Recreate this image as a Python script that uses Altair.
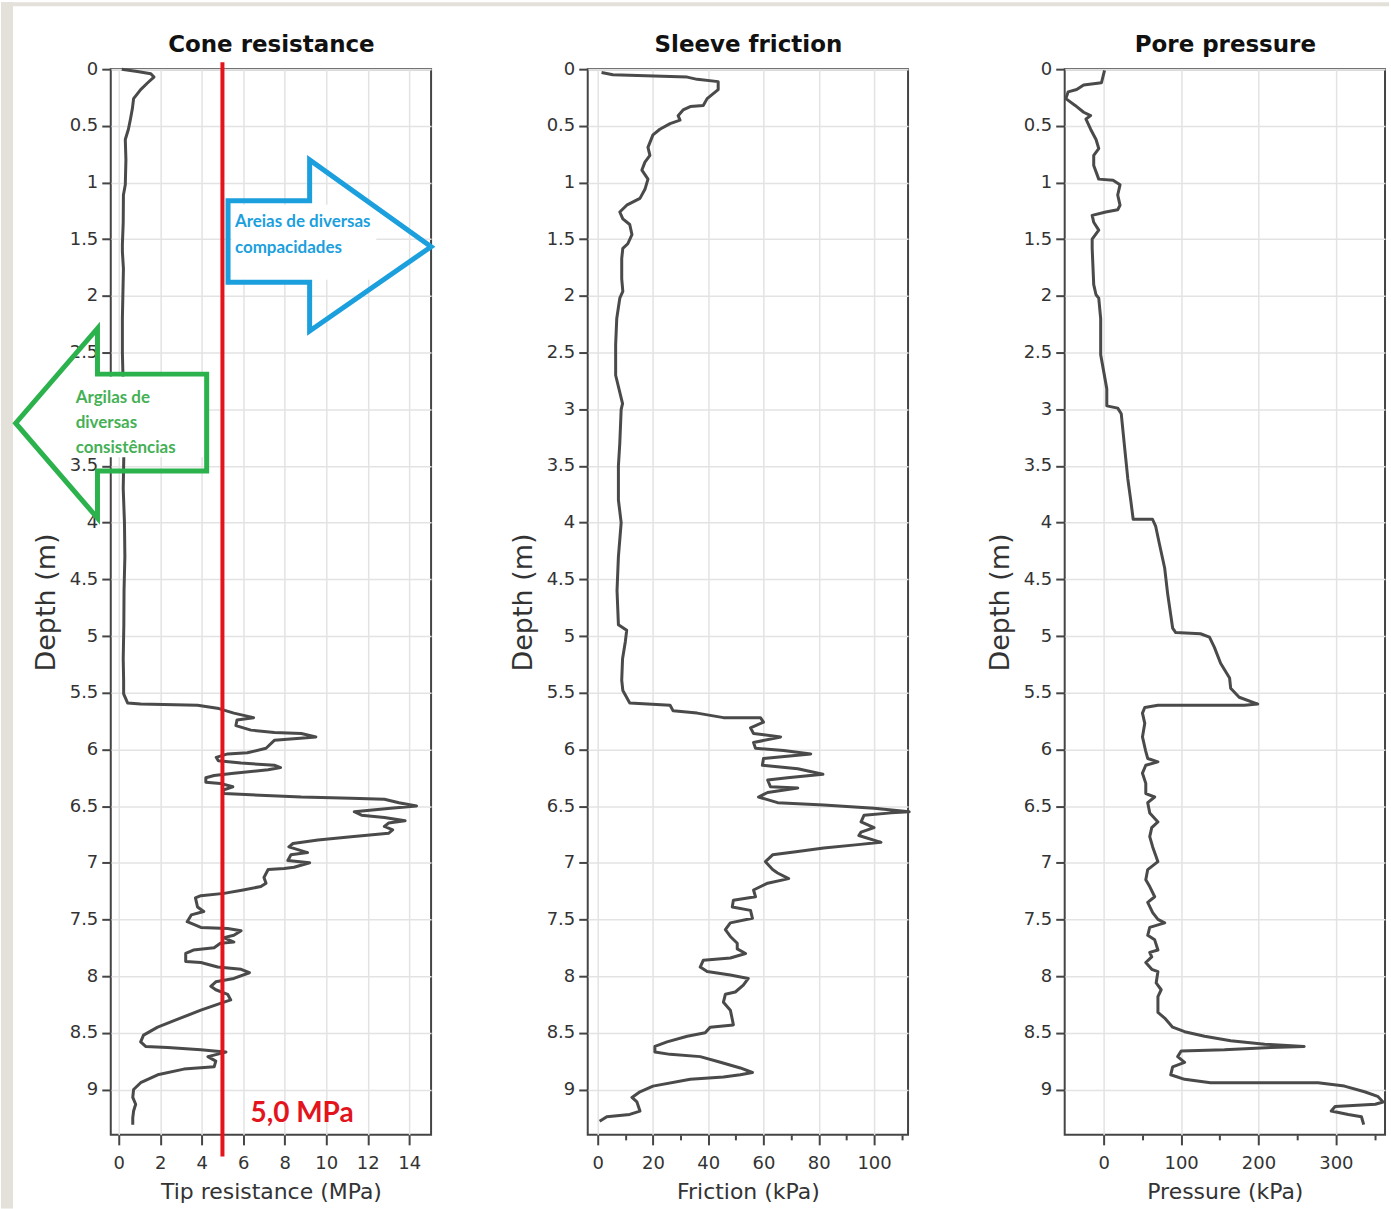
import altair as alt
import pandas as pd

# ---------------- Cone resistance (MPa) ----------------
qc_depth = [0.00, 0.02, 0.04, 0.07, 0.12, 0.18, 0.26, 0.35, 0.44, 0.53, 0.62, 0.80, 1.02, 1.11, 1.35, 1.55,
            1.61, 1.76, 2.20, 2.50, 2.80, 3.10, 3.40, 3.70, 4.00, 4.30, 4.60, 4.90, 5.20, 5.39, 5.51, 5.59,
            5.60, 5.61, 5.64, 5.68, 5.72, 5.74, 5.79, 5.83, 5.85, 5.86, 5.89, 5.90, 5.92, 5.99, 6.03, 6.04,
            6.07, 6.10, 6.12, 6.14, 6.16, 6.18, 6.21, 6.23, 6.25, 6.29, 6.30, 6.33, 6.36, 6.39, 6.40, 6.42,
            6.43, 6.44, 6.47, 6.50, 6.52, 6.55, 6.58, 6.60, 6.63, 6.65, 6.68, 6.71, 6.74, 6.77, 6.80, 6.83,
            6.86, 6.91, 6.93, 6.98, 7.00, 7.04, 7.05, 7.06, 7.13, 7.18, 7.21, 7.24, 7.27, 7.29, 7.31, 7.39,
            7.43, 7.46, 7.52, 7.57, 7.58, 7.60, 7.64, 7.66, 7.70, 7.71, 7.75, 7.77, 7.80, 7.87, 7.88, 7.92,
            7.94, 7.97, 8.02, 8.05, 8.09, 8.12, 8.16, 8.21, 8.24, 8.30, 8.38, 8.45, 8.52, 8.58, 8.62, 8.63,
            8.65, 8.66, 8.67, 8.71, 8.75, 8.80, 8.82, 8.87, 8.94, 9.00, 9.07, 9.13, 9.19, 9.25, 9.31]
qc_mpa = [0.15, 0.9, 1.55, 1.7, 1.4, 1.06, 0.72, 0.66, 0.57, 0.47, 0.32, 0.35, 0.32, 0.23, 0.22, 0.18,
          0.18, 0.23, 0.18, 0.18, 0.22, 0.22, 0.25, 0.22, 0.28, 0.30, 0.26, 0.25, 0.22, 0.24, 0.24, 0.43,
          1.06, 3.8, 4.83, 5.55, 6.5, 5.7, 5.65, 6.37, 7.5, 8.8, 9.5, 8.9, 7.5, 7.1, 6.2, 5.25,
          4.7, 4.8, 5.9, 7.5, 7.8, 7.2, 5.55, 4.6, 4.2, 4.2, 4.9, 5.5, 5.0, 5.07, 6.37, 8.8,
          11.2, 12.8, 13.5, 14.35, 13.1, 11.35, 11.7, 12.8, 13.8, 13.0, 12.8, 13.2, 13.0, 11.2, 9.6, 8.4,
          8.2, 9.1, 8.3, 8.15, 9.2, 8.45, 7.97, 7.2, 7.0, 7.1, 6.85, 6.0, 5.07, 3.96, 3.7, 3.8,
          4.1, 3.5, 3.3, 3.96, 5.25, 5.9, 5.55, 5.07, 5.55, 4.9, 4.6, 3.6, 3.23, 3.23, 3.96, 4.77,
          5.9, 6.3, 5.55, 4.68, 4.44, 4.68, 5.25, 5.4, 4.9, 3.96, 2.85, 1.88, 1.2, 1.06, 1.3, 2.36,
          3.96, 4.6, 5.17, 4.3, 4.68, 4.6, 3.14, 1.88, 1.06, 0.72, 0.68, 0.82, 0.72, 0.68, 0.68]

# ---------------- Sleeve friction (kPa) ----------------
fs_depth = [0.03, 0.05, 0.07, 0.09, 0.11, 0.18, 0.26, 0.32, 0.33, 0.36, 0.41, 0.45, 0.48, 0.53, 0.58, 0.69,
            0.76, 0.82, 0.89, 0.97, 1.06, 1.14, 1.20, 1.26, 1.32, 1.37, 1.46, 1.54, 1.58, 1.67, 1.85, 1.96,
            2.02, 2.20, 2.43, 2.70, 2.95, 3.00, 3.30, 3.50, 3.80, 4.00, 4.30, 4.60, 4.90, 4.95, 5.05, 5.20,
            5.39, 5.48, 5.59, 5.61, 5.66, 5.68, 5.72, 5.72, 5.76, 5.81, 5.86, 5.89, 5.94, 5.99, 6.01, 6.04,
            6.08, 6.14, 6.17, 6.22, 6.25, 6.27, 6.33, 6.34, 6.38, 6.42, 6.47, 6.49, 6.52, 6.55, 6.56, 6.58,
            6.64, 6.69, 6.73, 6.76, 6.82, 6.84, 6.87, 6.90, 6.93, 6.99, 7.06, 7.09, 7.14, 7.18, 7.24, 7.30,
            7.33, 7.39, 7.42, 7.49, 7.53, 7.59, 7.65, 7.71, 7.76, 7.80, 7.84, 7.86, 7.92, 7.96, 7.99, 8.02,
            8.08, 8.14, 8.16, 8.23, 8.30, 8.38, 8.43, 8.45, 8.50, 8.53, 8.58, 8.62, 8.67, 8.69, 8.71, 8.76,
            8.81, 8.85, 8.87, 8.89, 8.91, 8.97, 9.02, 9.07, 9.11, 9.19, 9.22, 9.24, 9.28]
fs_kpa = [1.4, 5.5, 32.4, 36.0, 43.6, 43.6, 39.6, 38.2, 33.5, 30.9, 29.1, 29.8, 26.2, 22.5, 20.0, 18.2,
          18.9, 17.1, 16.0, 18.2, 17.1, 15.3, 10.5, 8.0, 9.1, 11.6, 12.4, 10.9, 9.1, 8.7, 8.7, 9.1,
          8.0, 6.9, 6.5, 6.5, 9.0, 8.5, 8.0, 7.5, 7.5, 8.5, 7.5, 7.0, 7.5, 10.5, 10.0, 9.0,
          8.7, 9.1, 11.6, 26.2, 27.3, 36.0, 45.5, 58.9, 60.0, 55.3, 56.4, 66.2, 56.4, 57.1, 67.3, 77.1,
          60.0, 59.6, 72.4, 81.5, 68.7, 61.5, 62.5, 72.4, 61.5, 58.2, 65.1, 81.8, 100.0, 112.7, 106.2, 96.4,
          95.3, 100.0, 95.3, 94.5, 102.5, 94.2, 81.8, 72.4, 63.3, 60.7, 63.3, 65.1, 69.1, 61.5, 56.4, 57.1,
          49.1, 48.7, 55.3, 56.0, 48.0, 46.2, 48.0, 50.5, 50.5, 53.5, 48.0, 38.2, 37.1, 39.6, 48.0, 54.5,
          52.7, 49.8, 46.2, 45.5, 48.0, 48.7, 49.1, 40.7, 38.9, 32.4, 25.1, 20.7, 20.7, 26.2, 37.1, 44.4,
          51.6, 56.0, 51.6, 45.5, 33.5, 20.0, 15.3, 12.4, 14.2, 15.3, 11.6, 3.3, 0.7]

# ---------------- Pore pressure (kPa) ----------------
u2_depth = [0.01, 0.12, 0.14, 0.18, 0.20, 0.26, 0.32, 0.38, 0.41, 0.44, 0.53, 0.62, 0.70, 0.76, 0.85, 0.97,
            0.98, 1.02, 1.11, 1.20, 1.24, 1.26, 1.29, 1.35, 1.42, 1.50, 1.58, 1.90, 1.99, 2.02, 2.20, 2.52,
            2.67, 2.82, 2.97, 2.99, 3.04, 3.34, 3.61, 3.81, 3.97, 3.97, 4.03, 4.19, 4.40, 4.63, 4.93, 4.97,
            4.98, 5.01, 5.10, 5.24, 5.37, 5.46, 5.54, 5.60, 5.61, 5.61, 5.63, 5.68, 5.77, 5.89, 6.01, 6.08,
            6.11, 6.14, 6.21, 6.30, 6.39, 6.42, 6.47, 6.56, 6.64, 6.69, 6.77, 6.86, 6.99, 7.06, 7.15, 7.21,
            7.30, 7.35, 7.44, 7.50, 7.53, 7.57, 7.64, 7.68, 7.77, 7.79, 7.83, 7.88, 7.94, 7.96, 8.06, 8.12,
            8.18, 8.32, 8.37, 8.45, 8.49, 8.53, 8.57, 8.60, 8.62, 8.63, 8.65, 8.66, 8.71, 8.76, 8.80, 8.87,
            8.91, 8.94, 8.94, 8.94, 8.97, 9.02, 9.06, 9.11, 9.13, 9.15, 9.19, 9.22, 9.24, 9.31]
u2_kpa = [1, -3, -26, -35, -46, -49, -37, -26, -17, -23, -17, -10, -6.5, -13, -13, -6.5,
          12, 21, 18, 21, 18, 2.6, -15, -13, -6.5, -15, -15, -13, -10, -6.5, -4, -4,
          0, 3.9, 3.9, 18, 22.6, 27, 31, 35, 38, 63, 67, 72, 78.7, 82.6, 89, 93,
          125, 136.6, 143, 151, 162.6, 164, 175, 199, 182, 70, 53, 50, 53, 50, 54, 56.8,
          70, 54.3, 50, 54.3, 54.3, 65.8, 56.8, 59.4, 70, 62, 59.4, 63.2, 70, 56.8, 54.3, 59.4,
          65.8, 56.8, 63.2, 70, 78.7, 59.4, 56.8, 65.8, 70, 59.4, 62, 54.3, 62, 70, 67.7, 74.2,
          70, 70, 78.7, 89, 104.5, 130.3, 164, 208, 259, 216, 156, 100, 95.5, 104.5, 89, 86.5,
          104.5, 138, 199, 277, 311, 337, 354, 361, 351, 299, 294, 316, 333, 336]

# ---------------- Annotations (cone resistance panel, data units) ----------------
limit_mpa = 5.0
limit_depth = [-0.06, 9.59]
limit_label = "5,0 MPa"
limit_label_pos = [6.35, 9.22]

sand_x = [5.27, 5.27, 9.2, 9.2, 15.05, 9.2, 9.2, 5.27, 5.27]
sand_d = [1.52, 1.16, 1.16, 0.80, 1.566, 2.31, 1.88, 1.88, 1.52]
sand_text = ["Areias de diversas", "compacidades"]
sand_text_x = [5.6, 5.6]
sand_text_d = [1.35, 1.575]
sand_box = [5.44, 12.41, 1.197, 1.857]      # white text box: x1, x2, d1, d2

clay_x = [4.24, 4.24, -1.02, -1.02, -4.96, -1.02, -1.02, 4.24, 4.24]
clay_d = [3.12, 2.69, 2.69, 2.287, 3.123, 3.96, 3.545, 3.545, 3.12]
clay_text = ["Argilas de", "diversas", "consistências"]
clay_text_x = [-2.07, -2.07, -2.07]
clay_text_d = [2.90, 3.125, 3.345]
clay_box = [-2.30, 4.19, 2.711, 3.424]      # white text box: x1, x2, d1, d2

# page margin strips (left edge and top edge of the figure), in panel-1 data units
strip_x1 = [-5.667, -5.667]
strip_x2 = [-5.09, 61.2]
strip_d1 = [-0.5897, -0.5897]
strip_d2 = [10.05, -0.555]

DEPTH_DOMAIN = [0, 9.4]
DEPTH_TICKS = [i * 0.5 for i in range(19)]
X1_DOMAIN = [-0.38, 15.05]
X2_DOMAIN = [-3.6, 112.3]
X3_DOMAIN = [-50.5, 363.5]

CURVE = "#4a4a4a"
AX = "#454545"
RED = "#e3141c"
BLUE = "#1c9fdd"
GREEN = "#2bb24c"
GREEN_TXT = "#45b055"
STRIP = "#e4e0da"

W, H = 321, 1068


def x_axis(title, values, major):
    test = f"datum.value % {major} === 0"
    return alt.Axis(
        title=title, values=values,
        labelExpr=f"{test} ? datum.label : ''",
        tickSize={"condition": {"test": test, "value": 10}, "value": 5},
        gridOpacity={"condition": {"test": test, "value": 1}, "value": 0},
        labelOverlap=False, labelFlush=False,
    )


def title_layer(text, xdomain):
    df = pd.DataFrame({"x": [xdomain[0]]})
    return alt.Chart(df).mark_rule(opacity=0).encode(
        x=alt.X("x:Q", scale=alt.Scale(domain=xdomain, nice=False, zero=False),
                axis=alt.Axis(orient="top", title=text, labels=False, ticks=False, domain=False,
                              grid=False, minExtent=0, titleFont="DejaVu Sans", titleFontSize=23,
                              titleFontWeight="bold", titleColor="#111111", titlePadding=13)))


def y_enc(field="depth"):
    return alt.Y(f"{field}:Q", scale=alt.Scale(domain=DEPTH_DOMAIN, reverse=True, nice=False, zero=False),
                 axis=alt.Axis(title="Depth (m)", values=DEPTH_TICKS, format="~g"))


def curve_layer(depths, vals, xtitle, xdomain, xvalues, major):
    df = pd.DataFrame({"depth": depths, "v": vals, "i": list(range(len(depths)))})
    return alt.Chart(df).mark_line(color=CURVE, strokeWidth=3, strokeJoin="round").encode(
        x=alt.X("v:Q", scale=alt.Scale(domain=xdomain, nice=False, zero=False),
                axis=x_axis(xtitle, xvalues, major)),
        y=y_enc(),
        order=alt.Order("i:Q"),
    )


def ax1(field):
    return alt.X(f"{field}:Q", scale=alt.Scale(domain=X1_DOMAIN, nice=False, zero=False))


strip_df = pd.DataFrame({"x1": strip_x1, "x2": strip_x2, "d1": strip_d1, "d2": strip_d2})
strips = alt.Chart(strip_df).mark_rect(color=STRIP, clip=False).encode(
    x=ax1("x1"), x2="x2:Q", y=y_enc("d1"), y2="d2:Q")

red_df = pd.DataFrame({"x": [limit_mpa], "d1": [limit_depth[0]], "d2": [limit_depth[1]]})
red_rule = alt.Chart(red_df).mark_rule(color=RED, strokeWidth=4, clip=False).encode(
    x=ax1("x"), y=y_enc("d1"), y2="d2:Q")

red_txt_df = pd.DataFrame({"x": [limit_label_pos[0]], "d": [limit_label_pos[1]], "t": [limit_label]})
red_txt = alt.Chart(red_txt_df).mark_text(color=RED, font="Lato", fontSize=28, fontWeight="bold",
                                          align="left", baseline="middle").encode(
    x=ax1("x"), y=y_enc("d"), text="t:N")

box_df = pd.DataFrame({"x1": [sand_box[0], clay_box[0]], "x2": [sand_box[1], clay_box[1]],
                       "d1": [sand_box[2], clay_box[2]], "d2": [sand_box[3], clay_box[3]]})
boxes = alt.Chart(box_df).mark_rect(color="white", clip=False).encode(
    x=ax1("x1"), x2="x2:Q", y=y_enc("d1"), y2="d2:Q")

sand_df = pd.DataFrame({"x": sand_x, "d": sand_d, "i": list(range(len(sand_x)))})
sand_arrow = alt.Chart(sand_df).mark_line(color=BLUE, strokeWidth=5, strokeJoin="miter",
                                          clip=False).encode(
    x=ax1("x"), y=y_enc("d"), order="i:Q")
sand_tdf = pd.DataFrame({"x": sand_text_x, "d": sand_text_d, "t": sand_text})
sand_txt = alt.Chart(sand_tdf).mark_text(color=BLUE, font="Lato", fontSize=17, fontWeight="bold",
                                         align="left", baseline="middle").encode(
    x=ax1("x"), y=y_enc("d"), text="t:N")

clay_df = pd.DataFrame({"x": clay_x, "d": clay_d, "i": list(range(len(clay_x)))})
clay_arrow = alt.Chart(clay_df).mark_line(color=GREEN, strokeWidth=5, strokeJoin="miter",
                                          clip=False).encode(
    x=ax1("x"), y=y_enc("d"), order="i:Q")
clay_tdf = pd.DataFrame({"x": clay_text_x, "d": clay_text_d, "t": clay_text})
clay_txt = alt.Chart(clay_tdf).mark_text(color=GREEN_TXT, font="Lato", fontSize=17, fontWeight="bold",
                                         align="left", baseline="middle").encode(
    x=ax1("x"), y=y_enc("d"), text="t:N")

inner1 = alt.layer(
    curve_layer(qc_depth, qc_mpa, "Tip resistance (MPa)", X1_DOMAIN, list(range(0, 16)), 2),
    strips, red_rule, red_txt, boxes, sand_arrow, sand_txt, clay_arrow, clay_txt,
)

p1 = alt.layer(inner1, title_layer("Cone resistance", X1_DOMAIN)
               ).resolve_axis(x="independent").properties(width=W, height=H)

p2 = alt.layer(
    curve_layer(fs_depth, fs_kpa, "Friction (kPa)", X2_DOMAIN, list(range(0, 111, 10)), 20),
    title_layer("Sleeve friction", X2_DOMAIN),
).resolve_axis(x="independent").properties(width=W, height=H)

p3 = alt.layer(
    curve_layer(u2_depth, u2_kpa, "Pressure (kPa)", X3_DOMAIN, list(range(0, 351, 50)), 100),
    title_layer("Pore pressure", X3_DOMAIN),
).resolve_axis(x="independent").properties(width=W, height=H)

chart = alt.hconcat(p1, p2, p3, spacing=157, bounds="flush").properties(
    padding={"left": 0, "top": 0, "right": 0, "bottom": 0}, background="white"
).configure_view(stroke=AX, strokeWidth=2).configure_axis(
    domain=False, grid=True, gridColor="#e3e3e3", gridWidth=1.5,
    tickColor=AX, tickWidth=2,
    labelFont="DejaVu Sans", labelFontSize=18, labelColor="#333333",
    titleFont="DejaVu Sans", titleFontWeight="normal", titleColor="#333333",
).configure_axisX(labelPadding=10, titlePadding=9, titleFontSize=22
).configure_axisY(tickSize=9, labelPadding=4, titlePadding=9, titleFontSize=27)

chart.save("out.html", embed_options={"renderer": "svg", "actions": False})
